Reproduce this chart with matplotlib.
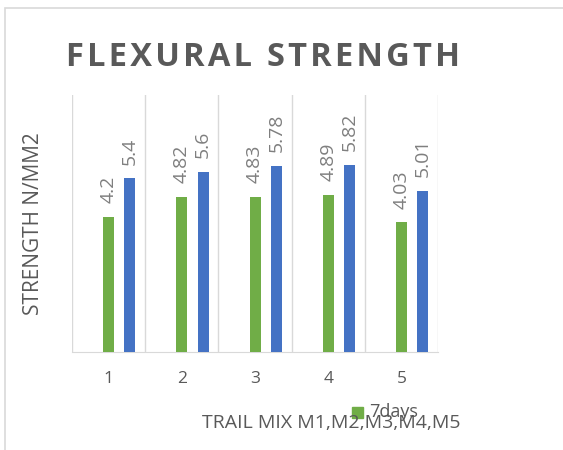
import matplotlib.pyplot as plt
from matplotlib.patches import Rectangle
import numpy as np

# data
mixes = ["1", "2", "3", "4", "5"]
days7 = [4.2, 4.82, 4.83, 4.89, 4.03]
days28 = [5.4, 5.6, 5.78, 5.82, 5.01]

plt.rcParams['font.family'] = ['Open Sans', 'DejaVu Sans']
grey = "#595959"

fig = plt.figure(figsize=(5.63, 4.5), dpi=100)
ax = fig.add_axes([0.128, 0.218, 0.650, 0.571])

x = np.arange(1, len(mixes) + 1)
w = 0.15
off = 0.29
b1 = ax.bar(x, days7, w, color="#70ad47", label="7days", zorder=3)
b2 = ax.bar(x + off, days28, w, color="#4472c4", zorder=3)

for bars in (b1, b2):
    for r in bars:
        ax.annotate(f"{r.get_height():g}", (r.get_x() + r.get_width() / 2, r.get_height()),
                    xytext=(0, 10), textcoords="offset points", rotation=90,
                    ha="center", va="bottom", fontsize=14, color="#7f7f7f")

ax.set_xlim(0.5, 5.5)
ax.set_ylim(0, 8)
ax.set_xticks(x)
ax.set_xticklabels(mixes, fontsize=12.5, color=grey)
ax.set_xticks(np.arange(0.5, 6, 1), minor=True)
ax.tick_params(axis="x", which="both", length=0, pad=14)
ax.set_yticks([])
ax.grid(True, axis="x", which="minor", color="#d9d9d9", lw=1, zorder=0)
for s in ("top", "right", "left"):
    ax.spines[s].set_visible(False)
ax.spines["bottom"].set_color("#d9d9d9")

ax.set_ylabel("STRENGTH N/MM2", fontsize=15, color=grey, labelpad=20)
fig.text(0.588, 0.060, "TRAIL MIX M1,M2,M3,M4,M5", fontsize=14, color=grey,
         ha="center", va="center")

# legend squeezed on top of the axis title
fig.patches.append(Rectangle((0.625, 0.071), 0.020, 0.024, transform=fig.transFigure,
                             color="#70ad47"))
fig.text(0.655, 0.085, "7days", fontsize=13, color=grey, ha="left", va="center")

fig.text(0.468, 0.872, "\u200a".join("FLEXURAL STRENGTH"),
         fontsize=23.5, fontweight="bold", color=grey, ha="center", va="center")

# chart border
fig.patches.append(Rectangle((0.009, -0.05), 1.2, 1.032, transform=fig.transFigure,
                             fill=False, edgecolor="#d9d9d9", lw=1.2))

fig.savefig("out.png", dpi=100)
